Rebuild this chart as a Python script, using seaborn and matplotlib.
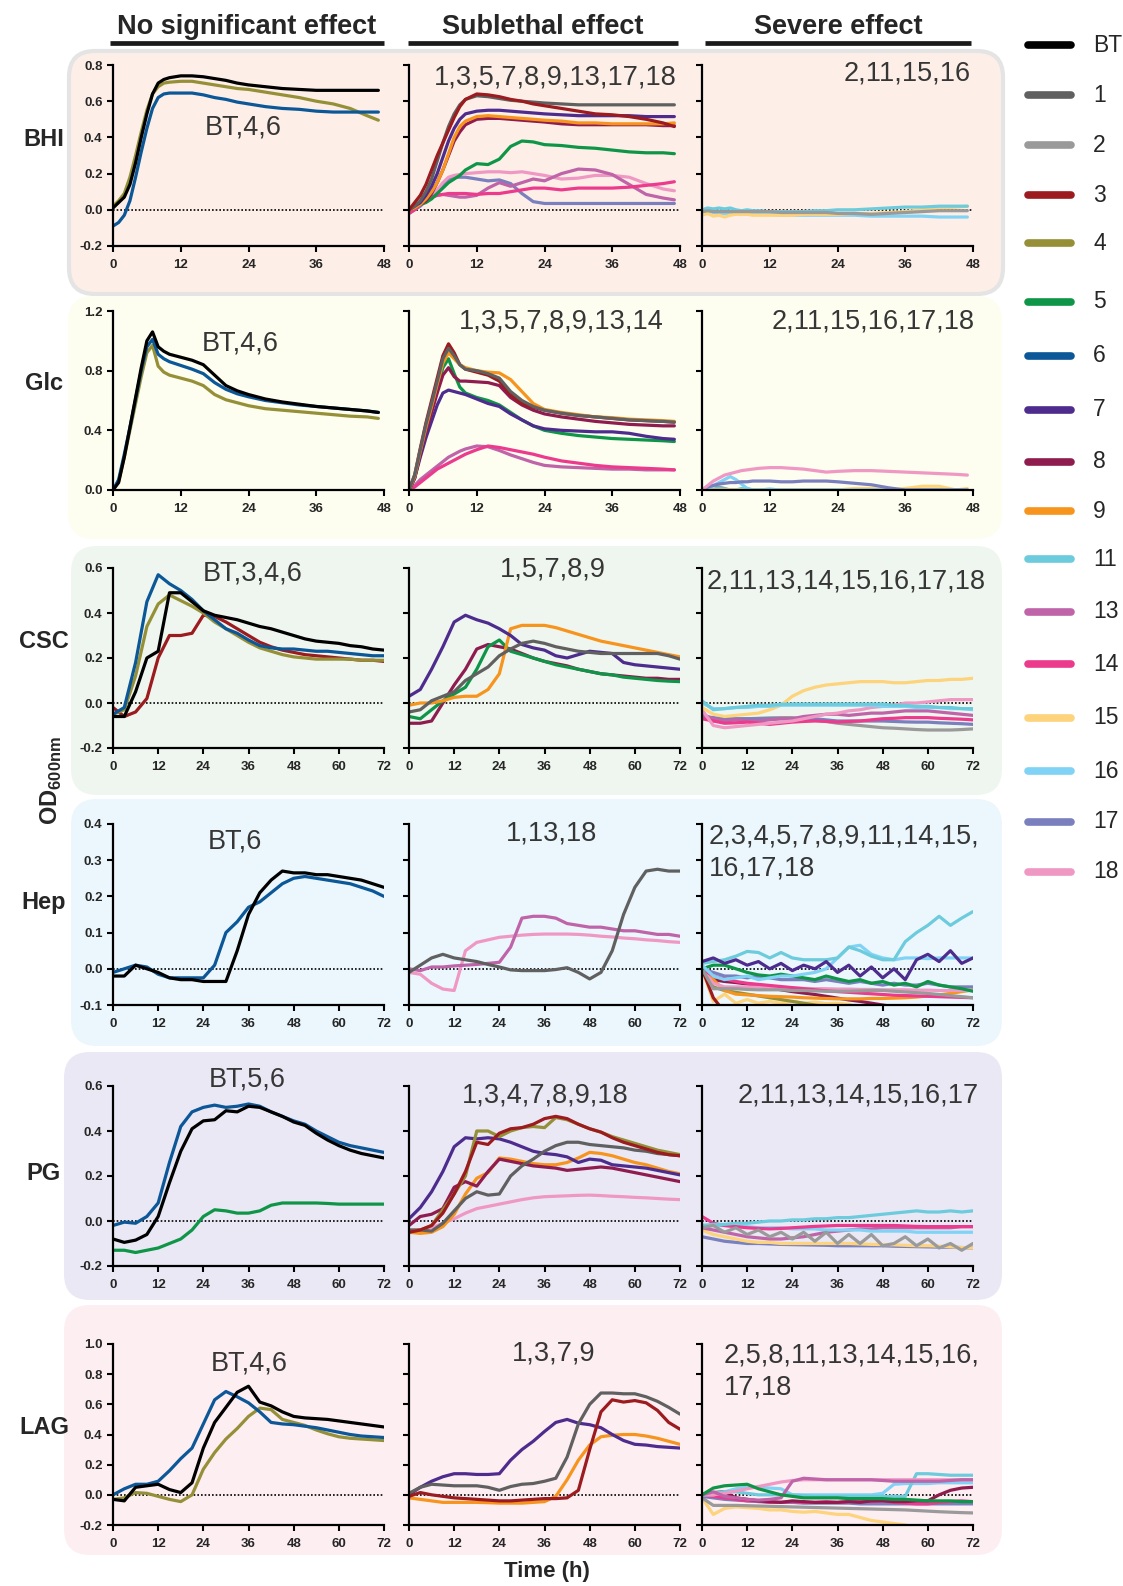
import matplotlib.pyplot as plt
import seaborn as sns
import pandas as pd
from matplotlib.lines import Line2D
from matplotlib.patches import FancyBboxPatch

# sampling times (h)
hours48 = [0, 1, 2, 3, 4, 5, 6, 7, 8, 9, 10, 12, 14, 16, 18, 20, 22, 24, 27, 30, 33, 36, 39, 42, 45, 47]
hours72 = [0, 3, 6, 9, 12, 15, 18, 21, 24, 27, 30, 33, 36, 39, 42, 45, 48, 51, 54, 57, 60, 63, 66, 69, 72]

strains = ['BT', '1', '2', '3', '4', '5', '6', '7', '8', '9', '11', '13', '14', '15', '16', '17', '18']
strain_colors = ['#000000', '#606060', '#9a9a9a', '#9b1b1f', '#959037', '#0f9548', '#0b5797', '#4d2c8e',
                 '#8f1c4f', '#f7941d', '#6ccbdc', '#bf64a8', '#ec3a8c', '#fdd37c', '#80d3f5', '#7a7fbe', '#ef98c4']

media = ['BHI', 'Glc', 'CSC', 'Hep', 'PG', 'LAG']
effects = ['No significant effect', 'Sublethal effect', 'Severe effect']

# ---------------- BHI ----------------
bhi_none = {
    '4': [0.02, 0.05, 0.09, 0.18, 0.30, 0.43, 0.55, 0.64, 0.68, 0.70, 0.705, 0.71, 0.71, 0.70, 0.69, 0.68, 0.67, 0.665, 0.65, 0.635, 0.62, 0.60, 0.585, 0.56, 0.52, 0.495],
    '6': [-0.09, -0.07, -0.03, 0.05, 0.18, 0.32, 0.45, 0.56, 0.62, 0.64, 0.645, 0.645, 0.645, 0.635, 0.62, 0.61, 0.595, 0.585, 0.57, 0.56, 0.555, 0.545, 0.54, 0.54, 0.54, 0.54],
    'BT': [0.01, 0.04, 0.07, 0.14, 0.26, 0.40, 0.53, 0.64, 0.70, 0.72, 0.73, 0.74, 0.74, 0.735, 0.725, 0.715, 0.70, 0.69, 0.68, 0.67, 0.665, 0.66, 0.66, 0.66, 0.66, 0.66],
}
bhi_sub = {
    '17': [-0.02, 0.0, 0.02, 0.05, 0.07, 0.10, 0.14, 0.17, 0.18, 0.18, 0.18, 0.17, 0.16, 0.165, 0.145, 0.09, 0.045, 0.035, 0.035, 0.035, 0.035, 0.035, 0.035, 0.035, 0.035, 0.035],
    '18': [0.0, 0.02, 0.03, 0.05, 0.07, 0.11, 0.15, 0.18, 0.19, 0.195, 0.20, 0.205, 0.21, 0.21, 0.205, 0.21, 0.20, 0.19, 0.17, 0.175, 0.19, 0.19, 0.18, 0.145, 0.115, 0.105],
    '13': [-0.01, 0.01, 0.03, 0.05, 0.07, 0.08, 0.085, 0.08, 0.075, 0.07, 0.07, 0.08, 0.12, 0.15, 0.13, 0.15, 0.17, 0.16, 0.20, 0.225, 0.22, 0.195, 0.14, 0.085, 0.065, 0.055],
    '14': [-0.02, 0.0, 0.03, 0.05, 0.07, 0.08, 0.085, 0.09, 0.09, 0.09, 0.09, 0.085, 0.09, 0.09, 0.10, 0.11, 0.12, 0.12, 0.11, 0.12, 0.12, 0.12, 0.125, 0.135, 0.145, 0.155],
    '5': [0.0, 0.02, 0.03, 0.04, 0.06, 0.09, 0.12, 0.15, 0.17, 0.19, 0.22, 0.255, 0.25, 0.28, 0.35, 0.38, 0.375, 0.36, 0.355, 0.345, 0.34, 0.33, 0.32, 0.315, 0.315, 0.31],
    '8': [0.0, 0.01, 0.03, 0.05, 0.09, 0.15, 0.22, 0.30, 0.38, 0.43, 0.47, 0.50, 0.505, 0.505, 0.50, 0.495, 0.49, 0.485, 0.475, 0.47, 0.47, 0.47, 0.47, 0.47, 0.465, 0.465],
    '9': [0.0, 0.01, 0.03, 0.06, 0.10, 0.15, 0.22, 0.31, 0.40, 0.46, 0.49, 0.515, 0.52, 0.515, 0.51, 0.505, 0.50, 0.495, 0.49, 0.48, 0.48, 0.475, 0.475, 0.475, 0.475, 0.48],
    '7': [0.0, 0.02, 0.04, 0.08, 0.13, 0.20, 0.29, 0.38, 0.45, 0.50, 0.53, 0.545, 0.55, 0.55, 0.545, 0.54, 0.535, 0.53, 0.525, 0.52, 0.52, 0.52, 0.52, 0.515, 0.515, 0.515],
    '1': [0.0, 0.02, 0.05, 0.10, 0.17, 0.27, 0.37, 0.46, 0.53, 0.58, 0.61, 0.63, 0.625, 0.615, 0.605, 0.60, 0.595, 0.59, 0.585, 0.58, 0.58, 0.58, 0.58, 0.58, 0.58, 0.58],
    '3': [0.0, 0.04, 0.08, 0.14, 0.22, 0.30, 0.37, 0.44, 0.51, 0.57, 0.61, 0.64, 0.635, 0.625, 0.61, 0.60, 0.585, 0.575, 0.56, 0.545, 0.53, 0.525, 0.515, 0.50, 0.48, 0.46],
}
bhi_severe = {
    '16': [-0.01, -0.01, -0.015, -0.02, -0.02, -0.02, -0.02, -0.02, -0.025, -0.025, -0.025, -0.025, -0.03, -0.03, -0.03, -0.03, -0.03, -0.03, -0.03, -0.035, -0.035, -0.035, -0.035, -0.04, -0.04, -0.04],
    '15': [-0.03, -0.02, -0.035, -0.03, -0.04, -0.03, -0.025, -0.025, -0.025, -0.03, -0.03, -0.03, -0.03, -0.03, -0.025, -0.025, -0.025, -0.025, -0.02, -0.02, -0.015, -0.01, 0.0, 0.01, 0.015, 0.02],
    '11': [0.0, 0.01, 0.005, 0.01, 0.005, 0.01, 0.0, -0.005, 0.0, -0.005, -0.005, -0.01, -0.01, -0.01, -0.01, -0.005, -0.005, 0.0, 0.0, 0.005, 0.01, 0.015, 0.015, 0.02, 0.02, 0.02],
    '2': [-0.01, -0.005, -0.01, -0.01, -0.01, -0.01, -0.01, -0.01, -0.01, -0.01, -0.01, -0.01, -0.015, -0.015, -0.015, -0.015, -0.015, -0.02, -0.02, -0.025, -0.02, -0.015, -0.01, -0.005, -0.005, -0.005],
}

# ---------------- Glc ----------------
glc_none = {
    '4': [0.0, 0.06, 0.22, 0.40, 0.58, 0.76, 0.92, 0.97, 0.83, 0.79, 0.77, 0.75, 0.73, 0.70, 0.64, 0.605, 0.585, 0.565, 0.545, 0.535, 0.525, 0.515, 0.505, 0.495, 0.49, 0.48],
    '6': [0.0, 0.07, 0.24, 0.42, 0.61, 0.80, 0.96, 1.01, 0.91, 0.88, 0.86, 0.835, 0.81, 0.78, 0.72, 0.675, 0.645, 0.625, 0.60, 0.585, 0.57, 0.56, 0.55, 0.54, 0.53, 0.52],
    'BT': [0.0, 0.05, 0.22, 0.42, 0.62, 0.82, 1.00, 1.06, 0.96, 0.93, 0.91, 0.89, 0.87, 0.84, 0.77, 0.70, 0.665, 0.64, 0.61, 0.59, 0.575, 0.56, 0.55, 0.54, 0.53, 0.52],
}
glc_sub = {
    '13': [0.0, 0.03, 0.07, 0.10, 0.13, 0.16, 0.19, 0.22, 0.24, 0.26, 0.275, 0.295, 0.29, 0.265, 0.235, 0.21, 0.185, 0.165, 0.155, 0.15, 0.145, 0.14, 0.14, 0.135, 0.135, 0.135],
    '14': [0.0, 0.02, 0.05, 0.08, 0.11, 0.14, 0.16, 0.18, 0.20, 0.22, 0.24, 0.27, 0.295, 0.285, 0.27, 0.255, 0.24, 0.22, 0.195, 0.18, 0.165, 0.155, 0.15, 0.145, 0.14, 0.135],
    '5': [0.0, 0.08, 0.25, 0.40, 0.54, 0.68, 0.82, 0.88, 0.78, 0.69, 0.65, 0.62, 0.60, 0.57, 0.52, 0.47, 0.43, 0.40, 0.38, 0.365, 0.355, 0.345, 0.34, 0.335, 0.33, 0.325],
    '7': [0.0, 0.08, 0.22, 0.35, 0.46, 0.57, 0.65, 0.67, 0.66, 0.65, 0.64, 0.61, 0.58, 0.56, 0.51, 0.47, 0.43, 0.41, 0.40, 0.395, 0.39, 0.39, 0.38, 0.36, 0.345, 0.34],
    '8': [0.0, 0.08, 0.24, 0.39, 0.52, 0.65, 0.77, 0.82, 0.76, 0.73, 0.73, 0.725, 0.72, 0.70, 0.62, 0.57, 0.535, 0.51, 0.49, 0.475, 0.46, 0.45, 0.44, 0.435, 0.43, 0.43],
    '3': [0.0, 0.10, 0.28, 0.45, 0.60, 0.75, 0.90, 0.98, 0.92, 0.84, 0.81, 0.79, 0.77, 0.73, 0.64, 0.58, 0.555, 0.535, 0.515, 0.50, 0.49, 0.48, 0.47, 0.465, 0.46, 0.455],
    '9': [0.0, 0.09, 0.26, 0.42, 0.56, 0.71, 0.85, 0.92, 0.88, 0.84, 0.82, 0.80, 0.79, 0.785, 0.74, 0.66, 0.58, 0.54, 0.52, 0.505, 0.49, 0.485, 0.475, 0.47, 0.465, 0.46],
    '1': [0.0, 0.10, 0.27, 0.44, 0.58, 0.73, 0.88, 0.95, 0.90, 0.84, 0.81, 0.80, 0.78, 0.75, 0.66, 0.60, 0.56, 0.535, 0.515, 0.50, 0.49, 0.48, 0.47, 0.465, 0.46, 0.455],
}
glc_severe = {
    '2': [0.0, 0.02, 0.03, 0.02, 0.01, 0.0, 0.0, 0.0, 0.0, 0.0, 0.0, 0.0, 0.0, 0.0, 0.0, 0.0, 0.0, 0.0, 0.0, 0.0, 0.0, 0.0, 0.0, 0.0, 0.0, 0.0],
    '11': [0.0, 0.0, 0.005, 0.01, 0.005, 0.0, 0.0, 0.01, 0.01, 0.0, 0.0, 0.005, 0.0, 0.0, 0.0, 0.0, 0.0, 0.0, 0.0, 0.0, 0.0, 0.0, 0.0, 0.0, 0.0, 0.0],
    '15': [0.0, 0.0, 0.0, 0.0, 0.0, 0.0, 0.0, 0.0, 0.0, 0.0, 0.0, 0.0, 0.0, 0.0, 0.0, 0.0, 0.0, 0.0, 0.01, 0.01, 0.0, 0.01, 0.025, 0.025, 0.0, 0.01],
    '16': [0.0, 0.01, 0.03, 0.05, 0.07, 0.09, 0.07, 0.04, 0.01, 0.0, 0.0, 0.005, 0.0, 0.0, 0.0, 0.0, 0.0, 0.0, 0.0, 0.0, 0.0, 0.0, 0.0, 0.0, 0.0, 0.0],
    '17': [0.0, 0.02, 0.03, 0.04, 0.045, 0.05, 0.05, 0.055, 0.055, 0.06, 0.06, 0.06, 0.055, 0.055, 0.06, 0.06, 0.06, 0.055, 0.045, 0.035, 0.015, 0.0, 0.0, 0.0, 0.0, 0.0],
    '18': [0.0, 0.03, 0.06, 0.08, 0.10, 0.11, 0.12, 0.13, 0.135, 0.14, 0.145, 0.15, 0.15, 0.145, 0.14, 0.13, 0.12, 0.125, 0.13, 0.13, 0.125, 0.12, 0.115, 0.11, 0.105, 0.10],
}

# ---------------- CSC ----------------
csc_none = {
    '3': [-0.02, -0.06, -0.04, 0.02, 0.20, 0.30, 0.30, 0.31, 0.39, 0.385, 0.36, 0.33, 0.30, 0.27, 0.25, 0.235, 0.225, 0.215, 0.21, 0.205, 0.20, 0.195, 0.19, 0.19, 0.185],
    '4': [-0.05, -0.03, 0.12, 0.34, 0.44, 0.48, 0.455, 0.43, 0.40, 0.36, 0.33, 0.30, 0.27, 0.245, 0.23, 0.215, 0.205, 0.20, 0.195, 0.195, 0.195, 0.195, 0.19, 0.19, 0.19],
    '6': [-0.05, -0.02, 0.18, 0.45, 0.57, 0.53, 0.50, 0.46, 0.41, 0.37, 0.33, 0.31, 0.28, 0.255, 0.245, 0.24, 0.24, 0.235, 0.23, 0.23, 0.225, 0.22, 0.215, 0.21, 0.21],
    'BT': [-0.06, -0.06, 0.05, 0.20, 0.23, 0.49, 0.49, 0.45, 0.41, 0.39, 0.38, 0.37, 0.355, 0.34, 0.33, 0.315, 0.30, 0.285, 0.275, 0.27, 0.265, 0.255, 0.25, 0.24, 0.235],
}
csc_sub = {
    '8': [-0.09, -0.09, -0.08, 0.0, 0.08, 0.15, 0.24, 0.26, 0.25, 0.24, 0.22, 0.20, 0.185, 0.175, 0.165, 0.15, 0.14, 0.13, 0.125, 0.12, 0.115, 0.11, 0.11, 0.105, 0.105],
    '5': [-0.06, -0.07, -0.03, 0.01, 0.04, 0.07, 0.15, 0.25, 0.28, 0.23, 0.215, 0.20, 0.185, 0.17, 0.16, 0.15, 0.14, 0.13, 0.125, 0.115, 0.11, 0.105, 0.10, 0.097, 0.095],
    '9': [-0.01, 0.0, 0.0, 0.01, 0.025, 0.03, 0.03, 0.06, 0.13, 0.33, 0.345, 0.345, 0.345, 0.335, 0.32, 0.305, 0.29, 0.275, 0.265, 0.255, 0.245, 0.235, 0.225, 0.215, 0.205],
    '7': [0.03, 0.06, 0.15, 0.25, 0.36, 0.39, 0.37, 0.355, 0.33, 0.30, 0.26, 0.245, 0.235, 0.21, 0.20, 0.215, 0.23, 0.225, 0.22, 0.18, 0.17, 0.165, 0.16, 0.155, 0.15],
    '1': [-0.04, -0.03, 0.01, 0.03, 0.05, 0.10, 0.13, 0.16, 0.21, 0.24, 0.265, 0.275, 0.265, 0.25, 0.24, 0.23, 0.225, 0.22, 0.22, 0.22, 0.22, 0.22, 0.22, 0.21, 0.195],
}
csc_severe = {
    '2': [-0.05, -0.08, -0.075, -0.072, -0.07, -0.068, -0.066, -0.065, -0.065, -0.07, -0.075, -0.082, -0.09, -0.095, -0.10, -0.105, -0.11, -0.112, -0.115, -0.118, -0.12, -0.12, -0.12, -0.118, -0.115],
    '17': [-0.06, -0.065, -0.07, -0.07, -0.07, -0.07, -0.07, -0.07, -0.07, -0.07, -0.07, -0.075, -0.08, -0.08, -0.08, -0.08, -0.08, -0.082, -0.084, -0.085, -0.085, -0.088, -0.09, -0.092, -0.095],
    '13': [-0.05, -0.07, -0.08, -0.075, -0.08, -0.08, -0.075, -0.07, -0.07, -0.06, -0.055, -0.05, -0.05, -0.055, -0.05, -0.045, -0.045, -0.04, -0.035, -0.035, -0.035, -0.04, -0.045, -0.05, -0.055],
    '14': [-0.07, -0.08, -0.09, -0.088, -0.085, -0.09, -0.095, -0.09, -0.085, -0.082, -0.08, -0.082, -0.085, -0.082, -0.08, -0.075, -0.07, -0.068, -0.065, -0.065, -0.065, -0.068, -0.07, -0.072, -0.075],
    '18': [-0.03, -0.10, -0.11, -0.105, -0.10, -0.095, -0.09, -0.085, -0.08, -0.07, -0.06, -0.05, -0.045, -0.035, -0.03, -0.02, -0.015, -0.01, 0.0, 0.0, 0.005, 0.01, 0.015, 0.015, 0.015],
    '15': [-0.02, -0.05, -0.06, -0.055, -0.05, -0.045, -0.03, -0.01, 0.03, 0.055, 0.07, 0.08, 0.085, 0.09, 0.095, 0.095, 0.095, 0.09, 0.09, 0.095, 0.10, 0.10, 0.105, 0.105, 0.11],
    '16': [0.0, -0.025, -0.025, -0.02, -0.02, -0.015, -0.015, -0.01, -0.01, -0.01, -0.01, -0.01, -0.01, -0.01, -0.01, -0.01, -0.015, -0.015, -0.015, -0.02, -0.02, -0.02, -0.025, -0.025, -0.03],
    '11': [0.01, -0.03, -0.025, -0.02, -0.015, -0.01, -0.01, -0.005, -0.005, -0.005, -0.005, -0.005, -0.005, -0.005, -0.005, -0.005, -0.005, -0.01, -0.01, -0.015, -0.015, -0.02, -0.02, -0.025, -0.025],
}

# ---------------- Hep ----------------
hep_none = {
    '6': [-0.01, 0.0, 0.01, 0.005, -0.015, -0.025, -0.025, -0.025, -0.025, 0.01, 0.10, 0.13, 0.17, 0.185, 0.21, 0.235, 0.25, 0.255, 0.25, 0.245, 0.24, 0.235, 0.225, 0.215, 0.20],
    'BT': [-0.02, -0.02, 0.01, 0.0, -0.01, -0.025, -0.03, -0.03, -0.035, -0.035, -0.035, 0.05, 0.15, 0.21, 0.245, 0.27, 0.265, 0.265, 0.26, 0.26, 0.255, 0.25, 0.245, 0.235, 0.225],
}
hep_sub = {
    '18': [-0.01, -0.015, -0.04, -0.056, -0.06, 0.05, 0.073, 0.08, 0.087, 0.09, 0.093, 0.095, 0.096, 0.096, 0.096, 0.095, 0.093, 0.09, 0.088, 0.085, 0.083, 0.08, 0.078, 0.075, 0.073],
    '13': [0.0, -0.005, 0.005, 0.005, 0.008, 0.01, 0.012, 0.015, 0.018, 0.06, 0.14, 0.145, 0.145, 0.14, 0.125, 0.12, 0.115, 0.115, 0.11, 0.105, 0.105, 0.10, 0.095, 0.095, 0.09],
    '1': [-0.01, 0.01, 0.03, 0.04, 0.03, 0.025, 0.02, 0.012, 0.005, -0.003, -0.005, -0.005, -0.005, -0.002, 0.003, -0.01, -0.028, -0.01, 0.05, 0.15, 0.225, 0.27, 0.275, 0.27, 0.27],
}
hep_severe = {
    '15': [0.0, -0.09, -0.07, -0.095, -0.085, -0.095, -0.09, -0.095, -0.09, -0.095, -0.092, -0.096, -0.095, -0.098, -0.11, -0.12, -0.12, -0.12, -0.12, -0.12, -0.12, -0.12, -0.12, -0.12, -0.12],
    '4': [0.0, -0.05, -0.06, -0.065, -0.07, -0.075, -0.08, -0.085, -0.09, -0.095, -0.10, -0.105, -0.12, -0.12, -0.12, -0.12, -0.12, -0.12, -0.12, -0.12, -0.12, -0.12, -0.12, -0.12, -0.12],
    '3': [0.0, -0.08, -0.12, -0.12, -0.12, -0.12, -0.12, -0.12, -0.12, -0.12, -0.12, -0.12, -0.12, -0.12, -0.12, -0.12, -0.12, -0.12, -0.12, -0.12, -0.12, -0.12, -0.12, -0.12, -0.12],
    '8': [0.0, -0.03, -0.035, -0.038, -0.042, -0.048, -0.053, -0.058, -0.063, -0.067, -0.071, -0.076, -0.081, -0.086, -0.09, -0.095, -0.10, -0.105, -0.11, -0.11, -0.11, -0.11, -0.11, -0.11, -0.11],
    '9': [0.0, -0.03, -0.06, -0.07, -0.072, -0.074, -0.076, -0.077, -0.078, -0.08, -0.081, -0.082, -0.083, -0.083, -0.083, -0.082, -0.082, -0.081, -0.08, -0.078, -0.075, -0.072, -0.068, -0.063, -0.058],
    '18': [0.0, -0.04, -0.05, -0.05, -0.05, -0.05, -0.052, -0.052, -0.053, -0.054, -0.055, -0.055, -0.056, -0.056, -0.057, -0.057, -0.058, -0.058, -0.058, -0.059, -0.059, -0.06, -0.06, -0.06, -0.06],
    '14': [0.0, -0.02, -0.028, -0.035, -0.04, -0.043, -0.046, -0.049, -0.052, -0.055, -0.058, -0.061, -0.063, -0.065, -0.067, -0.069, -0.071, -0.073, -0.074, -0.075, -0.076, -0.077, -0.078, -0.079, -0.08],
    '17': [0.0, -0.01, -0.02, -0.02, -0.025, -0.02, -0.025, -0.03, -0.03, -0.03, -0.035, -0.03, -0.035, -0.04, -0.035, -0.04, -0.045, -0.04, -0.045, -0.045, -0.04, -0.045, -0.05, -0.05, -0.05],
    '2': [0.0, -0.055, -0.055, -0.055, -0.057, -0.058, -0.058, -0.058, -0.06, -0.06, -0.061, -0.062, -0.062, -0.062, -0.061, -0.06, -0.06, -0.062, -0.064, -0.066, -0.068, -0.071, -0.074, -0.077, -0.08],
    '5': [0.0, 0.01, 0.01, 0.0, -0.01, -0.017, -0.02, -0.015, -0.02, -0.025, -0.03, -0.02, -0.028, -0.035, -0.03, -0.04, -0.035, -0.045, -0.04, -0.05, -0.035, -0.045, -0.05, -0.055, -0.062],
    '16': [0.01, -0.02, -0.03, -0.025, -0.02, -0.03, -0.025, -0.02, -0.02, -0.015, -0.01, 0.0, 0.03, 0.06, 0.065, 0.04, 0.03, 0.025, 0.03, 0.03, 0.028, 0.03, 0.03, 0.03, 0.03],
    '11': [0.015, 0.02, 0.025, 0.035, 0.048, 0.045, 0.03, 0.045, 0.03, 0.025, 0.025, 0.025, 0.03, 0.06, 0.05, 0.035, 0.025, 0.025, 0.075, 0.10, 0.12, 0.145, 0.12, 0.14, 0.158],
    '7': [0.02, 0.03, 0.015, 0.025, 0.01, 0.02, 0.0, 0.015, -0.005, 0.01, 0.0, 0.02, -0.01, 0.01, -0.02, 0.005, -0.025, 0.0, -0.03, 0.025, 0.04, 0.02, 0.05, 0.015, 0.03],
}

# ---------------- PG ----------------
pg_none = {
    '5': [-0.13, -0.13, -0.14, -0.13, -0.12, -0.10, -0.08, -0.04, 0.02, 0.05, 0.045, 0.035, 0.035, 0.045, 0.07, 0.08, 0.08, 0.08, 0.08, 0.078, 0.075, 0.075, 0.075, 0.075, 0.075],
    '6': [-0.02, -0.005, -0.01, 0.02, 0.08, 0.26, 0.42, 0.485, 0.505, 0.515, 0.505, 0.51, 0.52, 0.51, 0.485, 0.465, 0.445, 0.43, 0.40, 0.375, 0.35, 0.335, 0.325, 0.315, 0.305],
    'BT': [-0.08, -0.095, -0.085, -0.06, 0.02, 0.17, 0.31, 0.41, 0.445, 0.45, 0.49, 0.485, 0.51, 0.505, 0.485, 0.465, 0.44, 0.425, 0.39, 0.36, 0.335, 0.315, 0.30, 0.29, 0.28],
}
pg_sub = {
    '18': [-0.04, -0.04, -0.03, -0.01, 0.01, 0.035, 0.055, 0.065, 0.075, 0.085, 0.095, 0.103, 0.108, 0.11, 0.112, 0.114, 0.115, 0.113, 0.11, 0.108, 0.105, 0.103, 0.10, 0.097, 0.095],
    '9': [-0.05, -0.055, -0.05, -0.025, 0.03, 0.12, 0.19, 0.215, 0.28, 0.275, 0.265, 0.255, 0.25, 0.25, 0.26, 0.28, 0.305, 0.30, 0.29, 0.275, 0.26, 0.25, 0.235, 0.22, 0.21],
    '8': [-0.02, 0.02, 0.03, 0.055, 0.15, 0.175, 0.155, 0.22, 0.275, 0.265, 0.255, 0.245, 0.24, 0.235, 0.225, 0.23, 0.235, 0.24, 0.235, 0.225, 0.215, 0.205, 0.195, 0.185, 0.175],
    '7': [0.01, 0.06, 0.13, 0.22, 0.33, 0.37, 0.365, 0.37, 0.365, 0.35, 0.33, 0.31, 0.30, 0.295, 0.285, 0.26, 0.275, 0.27, 0.25, 0.245, 0.24, 0.235, 0.225, 0.215, 0.205],
    '1': [-0.04, -0.04, -0.045, -0.01, 0.045, 0.10, 0.13, 0.115, 0.12, 0.20, 0.245, 0.275, 0.31, 0.335, 0.35, 0.35, 0.34, 0.335, 0.33, 0.325, 0.315, 0.31, 0.30, 0.295, 0.29],
    '4': [-0.05, -0.04, -0.02, 0.05, 0.12, 0.20, 0.40, 0.40, 0.375, 0.40, 0.415, 0.42, 0.415, 0.46, 0.45, 0.43, 0.41, 0.395, 0.375, 0.36, 0.345, 0.33, 0.315, 0.305, 0.295],
    '3': [-0.05, -0.04, -0.02, 0.035, 0.12, 0.22, 0.35, 0.34, 0.39, 0.41, 0.415, 0.43, 0.455, 0.465, 0.455, 0.43, 0.41, 0.395, 0.37, 0.35, 0.335, 0.32, 0.305, 0.295, 0.29],
}
pg_severe = {
    '17': [-0.07, -0.08, -0.09, -0.095, -0.10, -0.10, -0.102, -0.104, -0.105, -0.106, -0.107, -0.108, -0.11, -0.11, -0.11, -0.11, -0.11, -0.112, -0.113, -0.114, -0.115, -0.116, -0.117, -0.118, -0.12],
    '15': [-0.04, -0.06, -0.07, -0.08, -0.09, -0.095, -0.095, -0.10, -0.10, -0.10, -0.10, -0.10, -0.10, -0.10, -0.102, -0.104, -0.105, -0.106, -0.108, -0.11, -0.11, -0.112, -0.115, -0.118, -0.12],
    '13': [-0.03, -0.04, -0.05, -0.06, -0.07, -0.075, -0.08, -0.08, -0.075, -0.07, -0.06, -0.05, -0.045, -0.04, -0.035, -0.035, -0.03, -0.03, -0.03, -0.03, -0.03, -0.03, -0.03, -0.025, -0.025],
    '16': [-0.02, -0.02, -0.02, -0.025, -0.025, -0.03, -0.03, -0.03, -0.035, -0.035, -0.035, -0.04, -0.04, -0.04, -0.04, -0.045, -0.045, -0.045, -0.045, -0.05, -0.05, -0.05, -0.05, -0.05, -0.05],
    '14': [0.02, -0.01, -0.02, -0.025, -0.03, -0.033, -0.035, -0.033, -0.03, -0.027, -0.024, -0.022, -0.02, -0.02, -0.02, -0.02, -0.02, -0.02, -0.022, -0.024, -0.025, -0.025, -0.025, -0.025, -0.025],
    '11': [-0.02, -0.015, -0.015, -0.01, -0.01, -0.005, 0.0, 0.0, 0.005, 0.005, 0.01, 0.01, 0.015, 0.015, 0.02, 0.025, 0.03, 0.035, 0.04, 0.045, 0.04, 0.04, 0.045, 0.04, 0.045],
    '2': [-0.03, -0.02, -0.05, -0.03, -0.06, -0.04, -0.07, -0.05, -0.08, -0.05, -0.09, -0.05, -0.10, -0.06, -0.10, -0.06, -0.11, -0.10, -0.07, -0.11, -0.08, -0.12, -0.10, -0.13, -0.10],
}

# ---------------- LAG ----------------
lag_none = {
    '4': [-0.03, -0.02, 0.015, 0.01, -0.01, -0.03, -0.045, 0.0, 0.17, 0.28, 0.37, 0.44, 0.52, 0.575, 0.565, 0.50, 0.48, 0.46, 0.43, 0.405, 0.385, 0.375, 0.37, 0.365, 0.36],
    '6': [0.0, 0.04, 0.07, 0.07, 0.09, 0.16, 0.24, 0.31, 0.47, 0.63, 0.685, 0.65, 0.61, 0.55, 0.48, 0.47, 0.465, 0.455, 0.445, 0.43, 0.415, 0.40, 0.39, 0.385, 0.38],
    'BT': [-0.03, -0.04, 0.05, 0.06, 0.07, 0.035, 0.015, 0.08, 0.31, 0.48, 0.58, 0.68, 0.72, 0.615, 0.59, 0.55, 0.52, 0.51, 0.505, 0.50, 0.49, 0.48, 0.47, 0.46, 0.45],
}
lag_sub = {
    '9': [-0.02, -0.03, -0.04, -0.05, -0.05, -0.05, -0.05, -0.052, -0.055, -0.055, -0.055, -0.05, -0.045, -0.01, 0.10, 0.23, 0.33, 0.385, 0.395, 0.40, 0.40, 0.39, 0.375, 0.355, 0.335],
    '7': [0.0, 0.05, 0.09, 0.12, 0.14, 0.14, 0.135, 0.135, 0.14, 0.23, 0.30, 0.355, 0.42, 0.48, 0.50, 0.475, 0.465, 0.445, 0.40, 0.36, 0.335, 0.33, 0.32, 0.315, 0.31],
    '1': [0.01, 0.05, 0.07, 0.065, 0.06, 0.06, 0.06, 0.05, 0.03, 0.055, 0.07, 0.075, 0.09, 0.11, 0.25, 0.47, 0.60, 0.675, 0.675, 0.67, 0.67, 0.65, 0.62, 0.58, 0.535],
    '3': [-0.01, 0.015, 0.0, -0.01, -0.02, -0.025, -0.03, -0.035, -0.04, -0.04, -0.035, -0.03, -0.025, -0.025, -0.02, 0.03, 0.30, 0.55, 0.63, 0.615, 0.625, 0.61, 0.56, 0.48, 0.435],
}
lag_severe = {
    '15': [-0.02, -0.13, -0.09, -0.08, -0.085, -0.09, -0.10, -0.10, -0.11, -0.115, -0.11, -0.12, -0.13, -0.13, -0.15, -0.17, -0.18, -0.19, -0.20, -0.22, -0.24, -0.25, -0.25, -0.25, -0.25],
    '2': [-0.02, -0.07, -0.07, -0.07, -0.072, -0.074, -0.076, -0.078, -0.08, -0.082, -0.084, -0.086, -0.088, -0.09, -0.092, -0.094, -0.096, -0.098, -0.10, -0.104, -0.108, -0.112, -0.115, -0.118, -0.12],
    '17': [-0.01, -0.02, -0.03, -0.035, -0.04, -0.045, -0.05, -0.05, -0.05, -0.055, -0.055, -0.055, -0.055, -0.055, -0.06, -0.06, -0.06, -0.06, -0.06, -0.06, -0.06, -0.06, -0.06, -0.06, -0.06],
    '14': [0.0, -0.01, -0.02, -0.03, -0.04, -0.04, -0.05, -0.05, -0.045, -0.05, -0.05, -0.045, -0.05, -0.045, -0.04, -0.045, -0.04, -0.05, -0.055, -0.06, -0.06, -0.05, -0.045, -0.04, -0.045],
    '8': [0.0, 0.015, 0.02, -0.02, -0.03, -0.04, -0.045, -0.05, -0.04, -0.045, -0.05, -0.05, -0.05, -0.045, -0.05, -0.04, -0.04, -0.045, -0.045, -0.04, -0.04, 0.0, 0.03, 0.045, 0.05],
    '16': [0.0, 0.0, 0.02, 0.04, 0.05, 0.05, 0.045, 0.04, 0.0, 0.0, 0.0, 0.0, 0.0, 0.0, 0.0, 0.0, 0.01, 0.07, 0.075, 0.075, 0.075, 0.08, 0.08, 0.08, 0.08],
    '11': [0.0, 0.01, 0.02, 0.02, 0.01, 0.0, 0.0, 0.0, 0.0, -0.005, -0.01, -0.01, -0.01, -0.01, -0.01, -0.01, -0.01, -0.01, -0.01, 0.14, 0.14, 0.135, 0.13, 0.13, 0.13],
    '18': [0.0, 0.0, 0.01, 0.025, 0.04, 0.055, 0.07, 0.085, 0.095, 0.10, 0.10, 0.10, 0.10, 0.10, 0.10, 0.10, 0.10, 0.10, 0.10, 0.10, 0.10, 0.10, 0.10, 0.10, 0.10],
    '13': [0.0, 0.02, -0.01, -0.02, -0.03, -0.035, -0.03, -0.02, 0.09, 0.11, 0.105, 0.10, 0.10, 0.10, 0.10, 0.10, 0.095, 0.09, 0.09, 0.09, 0.09, 0.09, 0.095, 0.10, 0.10],
    '5': [0.0, 0.045, 0.06, 0.065, 0.07, 0.04, 0.02, 0.0, -0.01, -0.02, -0.02, -0.02, -0.02, -0.025, -0.025, -0.025, -0.025, -0.03, -0.03, -0.035, -0.04, -0.04, -0.04, -0.045, -0.045],
}

panel_data = [
    [bhi_none, bhi_sub, bhi_severe],
    [glc_none, glc_sub, glc_severe],
    [csc_none, csc_sub, csc_severe],
    [hep_none, hep_sub, hep_severe],
    [pg_none, pg_sub, pg_severe],
    [lag_none, lag_sub, lag_severe],
]
row_hours = [hours48, hours48, hours72, hours72, hours72, hours72]
row_xmax = [48, 48, 72, 72, 72, 72]
row_ylim = [(-0.2, 0.8), (0.0, 1.2), (-0.2, 0.6), (-0.1, 0.4), (-0.2, 0.6), (-0.2, 1.0)]
row_yticks = [[-0.2, 0.0, 0.2, 0.4, 0.6, 0.8], [0.0, 0.4, 0.8, 1.2], [-0.2, 0.0, 0.2, 0.4, 0.6],
              [-0.1, 0.0, 0.1, 0.2, 0.3, 0.4], [-0.2, 0.0, 0.2, 0.4, 0.6], [-0.2, 0.0, 0.2, 0.4, 0.6, 0.8, 1.0]]
panel_labels = [
    ['BT,4,6', '1,3,5,7,8,9,13,17,18', '2,11,15,16'],
    ['BT,4,6', '1,3,5,7,8,9,13,14', '2,11,15,16,17,18'],
    ['BT,3,4,6', '1,5,7,8,9', '2,11,13,14,15,16,17,18'],
    ['BT,6', '1,13,18', '2,3,4,5,7,8,9,11,14,15,\n16,17,18'],
    ['BT,5,6', '1,3,4,7,8,9,18', '2,11,13,14,15,16,17'],
    ['BT,4,6', '1,3,7,9', '2,5,8,11,13,14,15,16,\n17,18'],
]

palette = dict(zip(strains, strain_colors))

# ---------------- layout (pixels) ----------------
W, H = 1123, 1586
col_left = [113, 409, 702]
col_width = 271
row_span = [(65, 246), (311, 490), (568, 748), (824, 1005), (1086, 1266), (1344, 1525)]
row_boxes = [(69, 51, 1003, 294, '#fdefe8'), (68, 296, 1002, 539, '#fdfdf0'), (71, 546, 1002, 795, '#eff6ef'),
             (71, 799, 1002, 1046, '#ebf7fc'), (64, 1052, 1002, 1300, '#e9e8f4'), (64, 1305, 1002, 1555, '#fdeef2')]
row_label_y = [139, 384, 642, 903, 1173, 1428]
label_pos = [
    [(243, 128, 'center'), (555, 77, 'center'), (971, 74, 'right')],
    [(240, 343, 'center'), (561, 322, 'center'), (873, 322, 'center')],
    [(253, 574, 'center'), (553, 569, 'center'), (846, 581, 'center')],
    [(235, 842, 'center'), (552, 834, 'center'), (709, 853, 'left')],
    [(247, 1080, 'center'), (545, 1096, 'center'), (858, 1096, 'center')],
    [(249, 1363, 'center'), (554, 1353, 'center'), (724, 1371, 'left')],
]
legend_y = [45, 95, 145, 195, 243, 302, 356, 410, 462, 511, 559, 612, 664, 718, 771, 822, 872]


def fx(x):
    return x / W


def fy(y):
    return 1 - y / H


sns.set_style('ticks')
plt.rcParams['font.family'] = ['Liberation Sans', 'DejaVu Sans']
plt.rcParams['axes.unicode_minus'] = False
plt.rcParams['mathtext.fontset'] = 'custom'
plt.rcParams['mathtext.rm'] = 'Liberation Sans'
plt.rcParams['mathtext.bf'] = 'Liberation Sans:bold'

fig = plt.figure(figsize=(W / 100, H / 100), dpi=100)

# row background boxes
for i, (x0, y0, x1, y1, fc) in enumerate(row_boxes):
    box = FancyBboxPatch((x0 / 100, (H - y1) / 100), (x1 - x0) / 100, (y1 - y0) / 100,
                         boxstyle='round,pad=0,rounding_size=0.26', transform=fig.dpi_scale_trans,
                         facecolor=fc, edgecolor='#e4e4e4' if i == 0 else 'none', linewidth=3, zorder=-5)
    fig.add_artist(box)

for r in range(6):
    top, bottom = row_span[r]
    for c in range(3):
        ax = fig.add_axes([fx(col_left[c]), fy(bottom), col_width / W, (bottom - top) / H])
        ax.set_facecolor('none')
        curves = panel_data[r][c]
        hours = row_hours[r]
        for name, vals in curves.items():
            assert len(vals) == len(hours), (media[r], c, name, len(vals))
        df = pd.DataFrame([(h, v, s) for s, vals in curves.items() for h, v in zip(hours, vals)],
                          columns=['hour', 'od', 'strain'])
        ax.axhline(0, color='black', linestyle=(0, (1, 1.2)), linewidth=1.2, zorder=1)
        sns.lineplot(data=df, x='hour', y='od', hue='strain', hue_order=list(curves), palette=palette,
                     estimator=None, sort=False, legend=False, linewidth=2.3, ax=ax, zorder=2)
        ax.set_xlim(0, row_xmax[r])
        ax.set_ylim(*row_ylim[r])
        ax.set_xticks(list(range(0, row_xmax[r] + 1, 12)))
        ax.set_yticks(row_yticks[r])
        ax.set_xlabel('')
        ax.set_ylabel('')
        for side in ['top', 'right']:
            ax.spines[side].set_visible(False)
        for side in ['left', 'bottom']:
            ax.spines[side].set_linewidth(1.6)
            ax.spines[side].set_color('black')
        ax.tick_params(direction='out', length=4.5, width=1.5, color='black', labelsize=9.5)
        ax.tick_params(axis='x', pad=5)
        ax.tick_params(axis='y', pad=3)
        if c == 0:
            ax.set_yticklabels(['%.1f' % v for v in row_yticks[r]])
        else:
            ax.set_yticklabels([])
        for lab in ax.get_xticklabels() + ax.get_yticklabels():
            lab.set_fontweight('bold')
        px, py, ha = label_pos[r][c]
        fig.text(fx(px), fy(py), panel_labels[r][c], ha=ha, va='center', fontsize=19.5,
                 color='#363636', linespacing=1.3)
    fig.text(fx(44), fy(row_label_y[r]), media[r], ha='center', va='center', fontsize=17, fontweight='bold')

# column headers with bars
header_bars = [(110, 384), (408, 678), (705, 971)]
for (x0, x1), title in zip(header_bars, effects):
    fig.add_artist(Line2D([fx(x0), fx(x1)], [fy(43), fy(43)], transform=fig.transFigure,
                          color='#1a1a1a', linewidth=3.4, solid_capstyle='butt'))
    fig.text(fx((x0 + x1) / 2), fy(27), title, ha='center', va='center', fontsize=19.5, fontweight='bold')

# axis titles
fig.text(fx(51), fy(780), r'$\mathbf{OD}_{\mathbf{600nm}}$', rotation=90, ha='center', va='center', fontsize=17)
fig.text(fx(547), fy(1571), 'Time (h)', ha='center', va='center', fontsize=16, fontweight='bold')

# legend
for s, col, ly in zip(strains, strain_colors, legend_y):
    fig.add_artist(Line2D([fx(1028), fx(1071)], [fy(ly), fy(ly)], transform=fig.transFigure,
                          color=col, linewidth=5.5, solid_capstyle='round'))
    fig.text(fx(1093), fy(ly), s, ha='left', va='center', fontsize=16.5)

fig.savefig('out.png', dpi=100)
